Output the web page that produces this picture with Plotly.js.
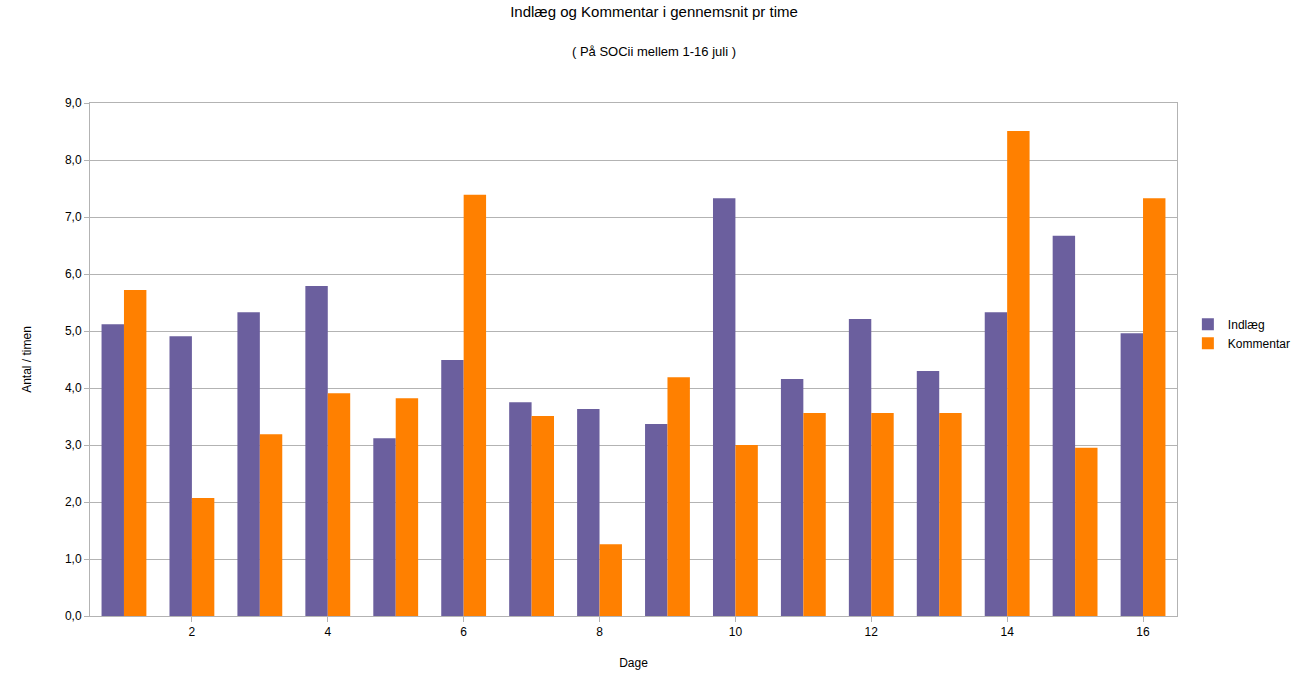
<!DOCTYPE html>
<html>
<head>
<meta charset="utf-8">
<script src="https://cdn.plot.ly/plotly-3.0.1.min.js"></script>
<style>body{margin:0;background:#fff}#chart{width:1308px;height:691px}</style>
</head>
<body>
<div id="chart"></div>
<script>
const days = ['1','2','3','4','5','6','7','8','9','10','11','12','13','14','15','16'];
const indlaeg = [5.12, 4.91, 5.33, 5.79, 3.12, 4.49, 3.75, 3.63, 3.37, 7.33, 4.16, 5.21, 4.30, 5.33, 6.67, 4.96];
const kommentar = [5.72, 2.07, 3.19, 3.91, 3.82, 7.39, 3.51, 1.26, 4.19, 3.00, 3.56, 3.56, 3.56, 8.51, 2.95, 7.33];

const traces = [
    { x: days, y: indlaeg, type: 'bar', name: 'Indlæg', marker: { color: '#6b5f9e' } },
    { x: days, y: kommentar, type: 'bar', name: 'Kommentar', marker: { color: '#ff8000' } }
];

const layout = {
    width: 1308, height: 691,
    margin: { l: 90, r: 119, t: 103, b: 75 },
    separators: ',.',
    font: { family: 'Liberation Sans, Arial, sans-serif', size: 12, color: '#000' },
    title: { text: 'Indlæg og Kommentar i gennemsnit pr time<br><br><span style="font-size:13px">( På SOCii mellem 1-16 juli )</span>', x: 0.5, y: 0.975, yanchor: 'top', font: { size: 15 } },
    bargap: 0.34, bargroupgap: 0,
    xaxis: {
        title: { text: 'Dage', font: { size: 12 }, standoff: 20 },
        showline: true, linecolor: '#b3b3b3', mirror: true,
        ticks: 'outside', ticklen: 5, tickcolor: '#b3b3b3', tickson: 'boundaries',
        showgrid: false
    },
    yaxis: {
        title: { text: 'Antal / timen', font: { size: 12 }, standoff: 30 },
        range: [0, 9], dtick: 1, tickformat: '.1f',
        showline: true, linecolor: '#b3b3b3', mirror: true,
        ticks: 'outside', ticklen: 5, tickcolor: '#b3b3b3',
        gridcolor: '#b3b3b3', zeroline: false
    },
    legend: { x: 1.01, y: 0.55, yanchor: 'middle', font: { size: 12 } },
    plot_bgcolor: '#fff', paper_bgcolor: '#fff'
};

Plotly.newPlot('chart', traces, layout, { displayModeBar: false });
</script>
</body>
</html>
